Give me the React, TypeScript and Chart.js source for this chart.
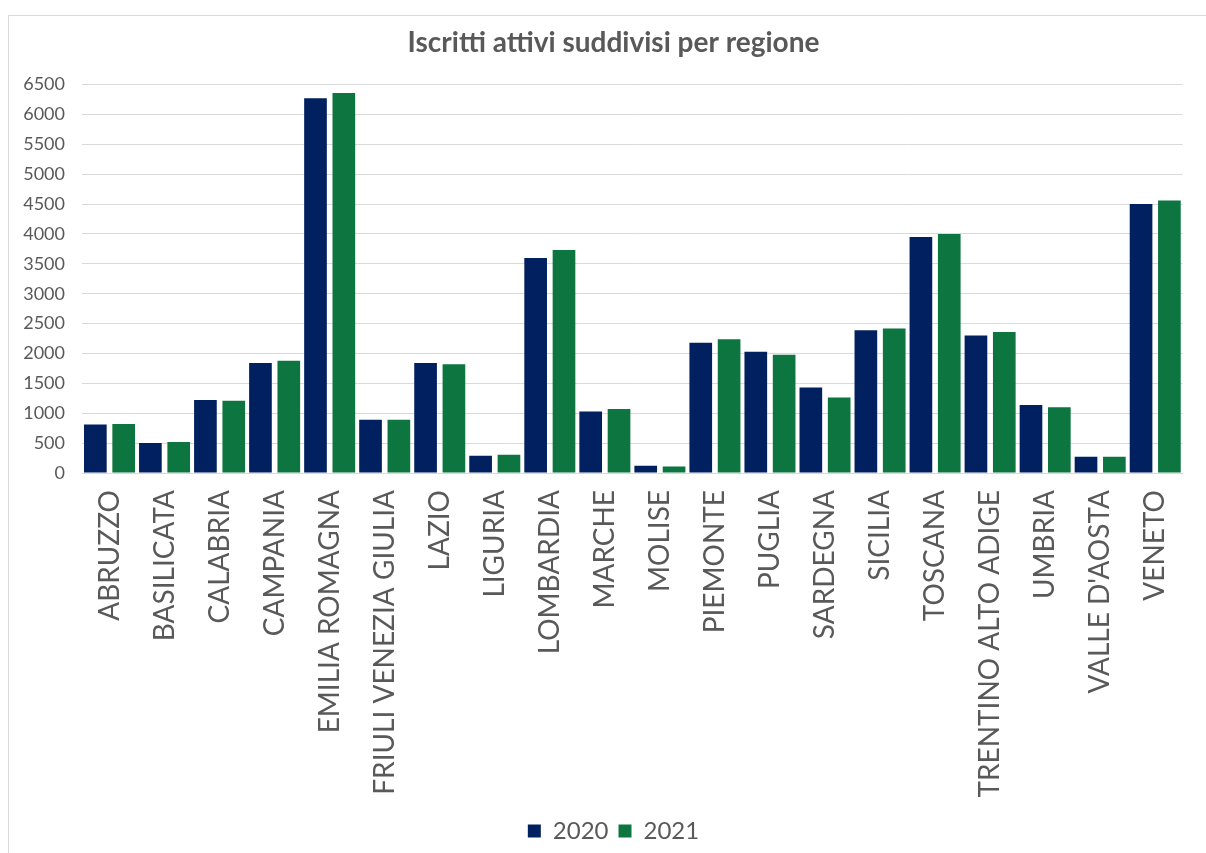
import React, { useEffect, useRef } from "react";
import { Chart, registerables } from "chart.js";

Chart.register(...registerables);

// Regions and active-member counts per year
const regions = [
  "ABRUZZO",
  "BASILICATA",
  "CALABRIA",
  "CAMPANIA",
  "EMILIA ROMAGNA",
  "FRIULI VENEZIA GIULIA",
  "LAZIO",
  "LIGURIA",
  "LOMBARDIA",
  "MARCHE",
  "MOLISE",
  "PIEMONTE",
  "PUGLIA",
  "SARDEGNA",
  "SICILIA",
  "TOSCANA",
  "TRENTINO ALTO ADIGE",
  "UMBRIA",
  "VALLE D'AOSTA",
  "VENETO",
];

const iscritti2020 = [810, 500, 1220, 1840, 6270, 890, 1840, 290, 3600, 1030, 120, 2180, 2030, 1430, 2390, 3950, 2300, 1140, 270, 4500];
const iscritti2021 = [820, 520, 1210, 1880, 6360, 890, 1820, 305, 3730, 1070, 110, 2240, 1980, 1265, 2420, 4000, 2360, 1100, 270, 4560];

const seriesLabels = ["2020", "2021"];
const titleText = "Iscritti attivi suddivisi per regione";

const yMax = 6500;
const yStep = 500;

const W = 1206;
const H = 853;
const TEXT = "#595959";
const GRID = "#d9d9d9";

// The chart frame runs past the right edge of the canvas, so the title and
// legend are centred on the frame rather than on the visible canvas.
const frameCentering = {
  id: "frameCentering",
  afterLayout(chart: any) {
    const shift = 10;
    for (const box of [chart.titleBlock, chart.legend]) {
      if (box) {
        box.left += shift;
        box.right += shift;
      }
    }
  },
};

// Slightly wider than the category so the gap inside a pair is a little
// larger than the gap between neighbouring regions.
const CATEGORY_PCT = 1.03;
const BAR_PCT = 0.8;

export default function App() {
  const canvasRef = useRef<HTMLCanvasElement | null>(null);

  useEffect(() => {
    const canvas = canvasRef.current;
    if (!canvas) return;
    const chart = new Chart(canvas, {
      type: "bar",
      data: {
        labels: regions,
        datasets: [
          {
            label: seriesLabels[0],
            data: iscritti2020,
            backgroundColor: "#002060",
            categoryPercentage: CATEGORY_PCT,
            barPercentage: BAR_PCT,
          },
          {
            label: seriesLabels[1],
            data: iscritti2021,
            backgroundColor: "#0d7540",
            categoryPercentage: CATEGORY_PCT,
            barPercentage: BAR_PCT,
          },
        ],
      },
      options: {
        responsive: false,
        animation: false,
        devicePixelRatio: 1,
        layout: { padding: { left: 8, right: 7, top: 15, bottom: 0 } },
        plugins: {
          title: {
            display: true,
            text: titleText,
            color: TEXT,
            font: { family: "Lato", size: 28, weight: "bold" },
            padding: { top: 11, bottom: 25 },
          },
          legend: {
            position: "bottom",
            labels: {
              color: TEXT,
              font: { family: "Lato", size: 24 },
              boxWidth: 13,
              boxHeight: 13,
              padding: 10,
            },
          },
          tooltip: { enabled: false },
        },
        scales: {
          x: {
            grid: { display: false, drawTicks: false },
            border: { display: true, color: GRID, width: 1 },
            ticks: {
              autoSkip: false,
              maxRotation: 90,
              minRotation: 90,
              padding: 17,
              color: TEXT,
              font: { family: "Lato", size: 28 },
            },
            afterFit: (scale: any) => {
              scale.height = 336;
            },
          },
          y: {
            min: 0,
            max: yMax,
            grid: { color: GRID, lineWidth: 1, drawTicks: false },
            border: { display: false },
            ticks: {
              stepSize: yStep,
              padding: 17,
              color: TEXT,
              font: { family: "Lato", size: 18 },
              callback: (v: any) => String(v),
            },
            afterFit: (scale: any) => {
              scale.width = 74;
            },
          },
        },
      },
      plugins: [frameCentering],
    });
    return () => chart.destroy();
  }, []);

  return (
    <div
      style={{
        position: "fixed",
        left: 0,
        top: 0,
        width: W,
        height: H,
        overflow: "hidden",
        background: "#ffffff",
      }}
    >
      <div
        style={{
          position: "absolute",
          left: 8,
          top: 15,
          width: 1240,
          height: 900,
          border: `1px solid ${GRID}`,
          boxSizing: "border-box",
        }}
      />
      <canvas
        ref={canvasRef}
        width={W}
        height={H}
        style={{ position: "absolute", left: 0, top: 0, width: W, height: H }}
      />
    </div>
  );
}
